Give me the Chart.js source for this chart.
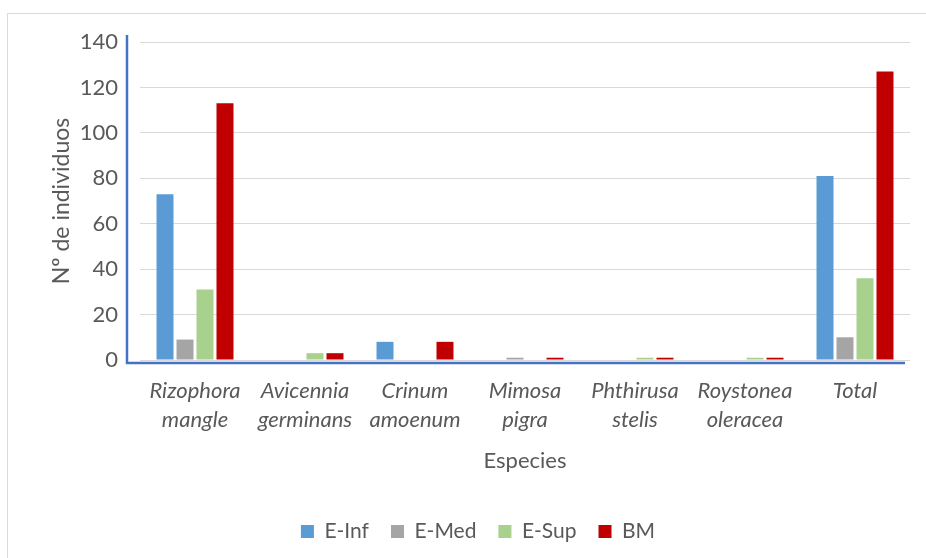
<!DOCTYPE html>
<html>
<head>
<meta charset="utf-8">
<script src="https://cdn.jsdelivr.net/npm/chart.js@4.4.1/dist/chart.umd.min.js"></script>
<style>
  body { margin: 0; background: #fff; }
  #wrap { position: relative; width: 926px; height: 558px; }
</style>
</head>
<body>
<div id="wrap"><canvas id="chart" width="926" height="558"></canvas></div>
<script>
// Data
const species = [
  ["Rizophora", "mangle"],
  ["Avicennia", "germinans"],
  ["Crinum", "amoenum"],
  ["Mimosa", "pigra"],
  ["Phthirusa", "stelis"],
  ["Roystonea", "oleracea"],
  "Total"
];
const eInf = [73, 0, 8, 0, 0, 0, 81];
const eMed = [9, 0, 0, 1, 0, 0, 10];
const eSup = [31, 3, 0, 0, 1, 1, 36];
const bm = [113, 3, 8, 1, 1, 1, 127];
const yTicks = [0, 20, 40, 60, 80, 100, 120, 140];

const textColor = "#595959";
const fontFamily = "Lato, 'Open Sans', sans-serif";

// Draw the outer frame and the blue axis lines
const framePlugin = {
  id: "frame",
  beforeDraw(chart) {
    const ctx = chart.ctx;
    ctx.save();
    ctx.strokeStyle = "#d9d9d9";
    ctx.lineWidth = 1;
    ctx.strokeRect(7.5, 13.5, 940, 560);
    ctx.restore();
  },
  afterDatasetsDraw(chart) {
    const ctx = chart.ctx;
    const a = chart.chartArea;
    ctx.save();
    ctx.strokeStyle = "#4472C4";
    ctx.lineWidth = 2.5;
    ctx.beginPath();
    ctx.moveTo(a.left - 13, a.top - 7);
    ctx.lineTo(a.left - 13, a.bottom + 3);
    ctx.lineTo(a.right - 5, a.bottom + 3);
    ctx.stroke();
    ctx.restore();
  }
};

const ctx = document.getElementById("chart").getContext("2d");

const chart = new Chart(ctx, {
  type: "bar",
  data: {
    labels: species,
    datasets: [
      { label: "E-Inf", data: eInf, backgroundColor: "#5B9BD5" },
      { label: "E-Med", data: eMed, backgroundColor: "#A5A5A5" },
      { label: "E-Sup", data: eSup, backgroundColor: "#A9D18E" },
      { label: "BM", data: bm, backgroundColor: "#C00000" }
    ]
  },
  options: {
    responsive: false,
    animation: false,
    devicePixelRatio: 1,
    layout: { padding: { left: 46, right: 16, top: 42, bottom: 6 } },
    datasets: {
      bar: { categoryPercentage: 0.727, barPercentage: 0.85 }
    },
    scales: {
      x: {
        afterFit(scale) {
          scale.height = 139;
        },
        grid: { display: false },
        border: { display: false },
        ticks: {
          color: textColor,
          font: { family: fontFamily, size: 22, style: "italic", lineHeight: 1.3 },
          maxRotation: 0,
          autoSkip: false,
          padding: 9
        },
        title: {
          display: true,
          text: "Especies",
          color: textColor,
          font: { family: fontFamily, size: 22 },
          padding: { top: 10, bottom: 25 }
        }
      },
      y: {
        min: 0,
        max: 140,
        afterBuildTicks(scale) {
          scale.ticks = yTicks.map(v => ({ value: v }));
        },
        afterFit(scale) {
          scale.width = 94;
        },
        grid: { color: "#d9d9d9", drawTicks: false, lineWidth: 1 },
        border: { display: false },
        ticks: {
          color: textColor,
          font: { family: fontFamily, size: 22 },
          padding: 22
        },
        title: {
          display: true,
          text: "Nº de individuos",
          color: textColor,
          font: { family: fontFamily, size: 23 },
          padding: { top: 2, bottom: 0 }
        }
      }
    },
    plugins: {
      legend: {
        position: "bottom",
        labels: {
          color: textColor,
          font: { family: fontFamily, size: 21 },
          boxWidth: 13,
          boxHeight: 13,
          padding: 22
        }
      },
      tooltip: { enabled: false }
    }
  },
  plugins: [framePlugin]
});
</script>
</body>
</html>
